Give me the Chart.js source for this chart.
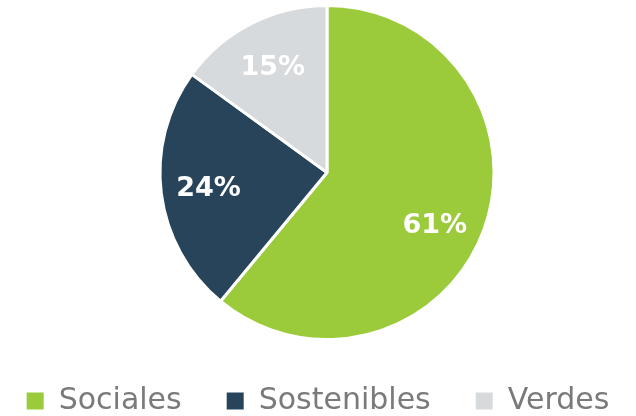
<!DOCTYPE html>
<html>
<head>
<meta charset="utf-8">
<script src="https://cdn.jsdelivr.net/npm/chart.js@4/dist/chart.umd.min.js"></script>
<style>
  html, body { margin: 0; padding: 0; background: #fff; }
  #wrap { width: 636px; height: 416px; }
</style>
</head>
<body>
<div id="wrap"><canvas id="pie"></canvas></div>
<script>
// datos del gráfico
const categories = ['Sociales', 'Sostenibles', 'Verdes'];
const shares = [61, 24, 15];
const colors = ['#9BCB3B', '#27445A', '#D7DADD'];

// etiquetas de porcentaje dentro de cada sector
const sliceLabels = {
  id: 'sliceLabels',
  afterDatasetsDraw(chart) {
    const ctx = chart.ctx;
    const meta = chart.getDatasetMeta(0);
    const nudge = [0.1, 0, 0]; // pequeño giro de la etiqueta (rad)
    ctx.save();
    ctx.font = 'bold 27px "DejaVu Sans", sans-serif';
    ctx.fillStyle = '#ffffff';
    ctx.textAlign = 'center';
    ctx.textBaseline = 'middle';
    meta.data.forEach(function(arc, i) {
      const p = arc.getProps(['x', 'y', 'startAngle', 'endAngle', 'outerRadius'], true);
      const mid = (p.startAngle + p.endAngle) / 2 + nudge[i];
      const r = p.outerRadius * 0.715;
      ctx.fillText(shares[i] + '%', p.x + Math.cos(mid) * r, p.y + Math.sin(mid) * r + 2);
    });
    ctx.restore();
  }
};

// leyenda en una sola fila y con altura fija
const legendFit = {
  id: 'legendFit',
  beforeInit(chart) {
    const legend = chart.legend;
    const origFit = legend.fit;
    legend.fit = function() {
      this.maxWidth = 1000;
      origFit.call(this);
      this.height = 75;
    };
    // ensanchar la caja al dibujar para que no salte de línea
    const origDraw = legend.draw;
    legend.draw = function() {
      this.left -= 60;
      this.right += 60;
      origDraw.call(this);
      this.left += 60;
      this.right -= 60;
    };
  },
  // la tarta va un poco desplazada a la derecha
  afterLayout(chart) {
    const a = chart.chartArea;
    a.left += 18;
    a.width = a.right - a.left;
  }
};

const baseLabels = Chart.overrides.pie.plugins.legend.labels.generateLabels;

new Chart(document.getElementById('pie'), {
  type: 'pie',
  data: {
    labels: categories,
    datasets: [{
      data: shares,
      backgroundColor: colors,
      borderColor: '#ffffff',
      borderWidth: 3
    }]
  },
  options: {
    responsive: true,
    maintainAspectRatio: false,
    animation: false,
    layout: { padding: { top: 4 } },
    plugins: {
      tooltip: { enabled: false },
      legend: {
        position: 'bottom',
        labels: {
          boxWidth: 17,
          boxHeight: 17,
          padding: 45,
          color: '#7a7a7a',
          font: { size: 30, family: '"DejaVu Sans", sans-serif' },
          generateLabels(chart) {
            return baseLabels(chart).map(function(l) {
              l.lineWidth = 0;
              return l;
            });
          }
        }
      }
    }
  },
  plugins: [sliceLabels, legendFit]
});
</script>
</body>
</html>
